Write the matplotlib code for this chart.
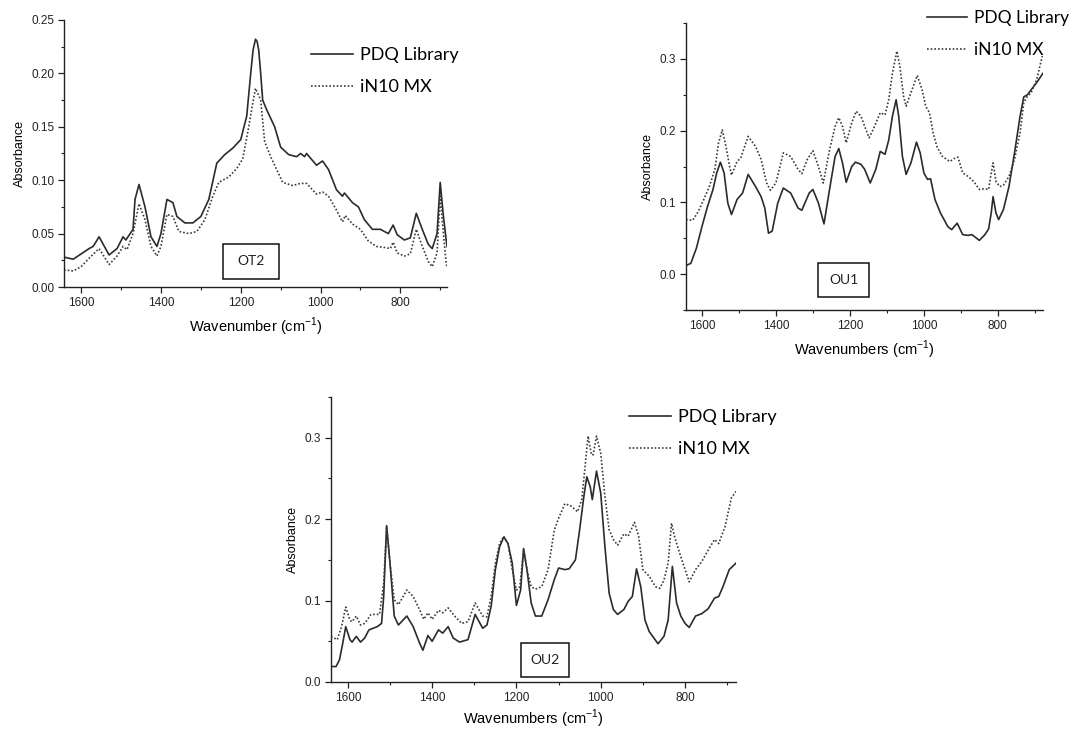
import matplotlib
matplotlib.use("Agg")
import matplotlib.pyplot as plt
from matplotlib.patches import Rectangle
from matplotlib.ticker import MultipleLocator

plt.rcParams['font.family'] = ['Liberation Sans', 'DejaVu Sans']

# ---- OT2 spectra ----
ot2_pdq_wn = [1643, 1620, 1580, 1570, 1555, 1530, 1510, 1495, 1488, 1470, 1465, 1455, 1440, 1425,
              1410, 1400, 1385, 1370, 1360, 1340, 1320, 1300, 1280, 1260, 1240, 1220, 1200, 1185,
              1175, 1169, 1163, 1159, 1155, 1150, 1145, 1135, 1115, 1100, 1080, 1060, 1050, 1040,
              1035, 1010, 995, 980, 960, 945, 940, 920, 905, 890, 870, 850, 830, 818, 808, 790,
              775, 760, 745, 730, 720, 708, 700, 692, 685, 683]
ot2_pdq = [0.028, 0.026, 0.036, 0.038, 0.047, 0.030, 0.036, 0.047, 0.044, 0.054, 0.082, 0.096, 0.075, 0.047,
           0.038, 0.050, 0.082, 0.079, 0.066, 0.060, 0.060, 0.066, 0.082, 0.116, 0.124, 0.130, 0.138, 0.160,
           0.200, 0.222, 0.232, 0.230, 0.222, 0.200, 0.175, 0.166, 0.150, 0.131, 0.124, 0.122, 0.125, 0.122,
           0.125, 0.114, 0.118, 0.110, 0.091, 0.085, 0.088, 0.079, 0.075, 0.063, 0.054, 0.054, 0.050, 0.058,
           0.049, 0.044, 0.046, 0.069, 0.054, 0.040, 0.036, 0.050, 0.098, 0.066, 0.044, 0.038]

ot2_in10_wn = [1643, 1620, 1600, 1580, 1555, 1530, 1510, 1495, 1485, 1470, 1455, 1440, 1425, 1410,
               1400, 1385, 1370, 1355, 1330, 1310, 1290, 1270, 1255, 1230, 1210, 1195, 1180, 1170,
               1163, 1150, 1140, 1125, 1110, 1095, 1070, 1050, 1035, 1010, 995, 980, 960, 945, 938,
               920, 900, 880, 860, 840, 825, 818, 808, 790, 775, 760, 745, 730, 720, 708, 700, 692,
               685, 683]
ot2_in10 = [0.016, 0.015, 0.019, 0.027, 0.036, 0.021, 0.029, 0.038, 0.035, 0.050, 0.078, 0.063, 0.038, 0.029,
            0.038, 0.068, 0.066, 0.052, 0.050, 0.052, 0.063, 0.085, 0.098, 0.103, 0.111, 0.120, 0.150, 0.172,
            0.186, 0.175, 0.136, 0.122, 0.110, 0.098, 0.095, 0.097, 0.097, 0.087, 0.089, 0.085, 0.072, 0.061, 0.067,
            0.059, 0.054, 0.043, 0.038, 0.037, 0.036, 0.042, 0.032, 0.029, 0.031, 0.054, 0.038, 0.024, 0.019, 0.032,
            0.085, 0.050, 0.022, 0.019]

# ---- OU1 spectra ----
ou1_pdq_wn = [1643, 1630, 1615, 1600, 1585, 1570, 1560, 1550, 1540, 1530, 1520, 1505, 1490, 1475,
              1455, 1440, 1430, 1420, 1410, 1395, 1380, 1360, 1340, 1330, 1310, 1300, 1285, 1270,
              1255, 1240, 1230, 1220, 1210, 1195, 1185, 1170, 1160, 1145, 1130, 1118, 1105, 1095,
              1085, 1075, 1068, 1058, 1048, 1035, 1020, 1010, 1000, 990, 982, 970, 955, 935, 925,
              910, 895, 880, 870, 850, 835, 825, 818, 813, 805, 798, 785, 770, 755, 740, 730, 720,
              710, 695, 678]
ou1_pdq = [0.012, 0.015, 0.036, 0.066, 0.094, 0.118, 0.141, 0.156, 0.141, 0.099, 0.083, 0.104, 0.113, 0.139,
           0.122, 0.108, 0.092, 0.057, 0.060, 0.099, 0.120, 0.113, 0.092, 0.089, 0.113, 0.118, 0.099, 0.070,
           0.118, 0.164, 0.175, 0.155, 0.128, 0.150, 0.156, 0.153, 0.146, 0.127, 0.146, 0.171, 0.167, 0.187,
           0.220, 0.243, 0.220, 0.164, 0.139, 0.155, 0.184, 0.169, 0.141, 0.132, 0.133, 0.104, 0.085, 0.066, 0.062,
           0.071, 0.055, 0.054, 0.055, 0.047, 0.055, 0.063, 0.085, 0.108, 0.085, 0.076, 0.090, 0.122, 0.169, 0.220,
           0.247, 0.250, 0.257, 0.267, 0.280]

ou1_in10_wn = [1643, 1625, 1610, 1595, 1580, 1565, 1555, 1545, 1535, 1525, 1520, 1505, 1495, 1475,
               1455, 1440, 1425, 1415, 1400, 1380, 1360, 1340, 1330, 1315, 1300, 1285, 1272, 1255,
               1240, 1230, 1220, 1210, 1195, 1183, 1170, 1160, 1148, 1135, 1118, 1105, 1095, 1085,
               1073, 1065, 1055, 1048, 1035, 1018, 1005, 995, 985, 975, 965, 950, 930, 915, 908,
               895, 880, 865, 850, 835, 825, 818, 813, 805, 795, 785, 770, 755, 740, 730, 720, 710,
               695, 680]
ou1_in10 = [0.076, 0.075, 0.087, 0.104, 0.122, 0.146, 0.183, 0.201, 0.178, 0.150, 0.138, 0.157, 0.162, 0.192,
            0.178, 0.160, 0.127, 0.117, 0.127, 0.169, 0.164, 0.146, 0.140, 0.160, 0.172, 0.150, 0.127, 0.173,
            0.206, 0.218, 0.206, 0.183, 0.211, 0.227, 0.220, 0.206, 0.190, 0.204, 0.225, 0.222, 0.243, 0.280,
            0.311, 0.290, 0.248, 0.234, 0.253, 0.277, 0.257, 0.234, 0.225, 0.197, 0.178, 0.164, 0.157, 0.162, 0.163,
            0.141, 0.136, 0.129, 0.118, 0.119, 0.118, 0.141, 0.155, 0.129, 0.122, 0.124, 0.136, 0.160, 0.197, 0.239,
            0.248, 0.253, 0.271, 0.304]

# ---- OU2 spectra ----
ou2_pdq_wn = [1640, 1628, 1620, 1612, 1605, 1595, 1590, 1580, 1570, 1560, 1550, 1530, 1520, 1515,
              1508, 1500, 1490, 1480, 1460, 1445, 1430, 1422, 1410, 1400, 1385, 1375, 1362, 1350,
              1335, 1315, 1298, 1280, 1270, 1260, 1250, 1240, 1230, 1220, 1210, 1200, 1190, 1183,
              1175, 1165, 1155, 1140, 1125, 1110, 1100, 1085, 1075, 1060, 1050, 1040, 1033, 1025,
              1020, 1010, 1000, 990, 980, 970, 960, 945, 935, 925, 915, 905, 895, 885, 864, 850,
              840, 830, 820, 810, 800, 790, 775, 760, 745, 730, 720, 710, 695, 679]
ou2_pdq = [0.019, 0.019, 0.027, 0.048, 0.068, 0.052, 0.049, 0.056, 0.049, 0.054, 0.064, 0.068, 0.072, 0.105,
           0.192, 0.146, 0.081, 0.070, 0.081, 0.068, 0.048, 0.039, 0.057, 0.050, 0.064, 0.060, 0.068, 0.054,
           0.049, 0.052, 0.083, 0.066, 0.070, 0.093, 0.138, 0.166, 0.178, 0.170, 0.146, 0.094, 0.113, 0.164,
           0.138, 0.097, 0.081, 0.081, 0.101, 0.126, 0.140, 0.138, 0.139, 0.150, 0.187, 0.228, 0.252, 0.240,
           0.224, 0.259, 0.232, 0.166, 0.109, 0.089, 0.083, 0.089, 0.099, 0.105, 0.139, 0.117, 0.076, 0.062, 0.047,
           0.056, 0.076, 0.142, 0.097, 0.081, 0.072, 0.067, 0.081, 0.084, 0.090, 0.103, 0.105, 0.117, 0.138, 0.146]

ou2_in10_wn = [1640, 1625, 1615, 1605, 1595, 1590, 1580, 1570, 1560, 1545, 1525, 1515, 1508, 1500,
               1490, 1480, 1460, 1445, 1430, 1420, 1410, 1400, 1385, 1375, 1362, 1345, 1330, 1315,
               1298, 1280, 1270, 1260, 1250, 1240, 1230, 1220, 1210, 1200, 1192, 1183, 1175, 1165,
               1155, 1140, 1125, 1110, 1100, 1085, 1070, 1055, 1045, 1038, 1030, 1022, 1018, 1010,
               1000, 990, 980, 970, 960, 945, 935, 920, 910, 900, 885, 870, 860, 850, 840, 832, 825,
               815, 805, 790, 775, 760, 745, 730, 720, 705, 690, 679]
ou2_in10 = [0.056, 0.052, 0.068, 0.092, 0.076, 0.074, 0.081, 0.070, 0.072, 0.083, 0.083, 0.121, 0.191, 0.146,
            0.101, 0.095, 0.113, 0.105, 0.089, 0.077, 0.085, 0.077, 0.088, 0.085, 0.091, 0.080, 0.072, 0.074,
            0.097, 0.081, 0.080, 0.105, 0.146, 0.170, 0.179, 0.170, 0.138, 0.113, 0.117, 0.162, 0.138, 0.117,
            0.114, 0.117, 0.138, 0.187, 0.201, 0.219, 0.216, 0.209, 0.224, 0.260, 0.302, 0.279, 0.279, 0.302,
            0.281, 0.228, 0.187, 0.175, 0.168, 0.182, 0.179, 0.196, 0.179, 0.138, 0.130, 0.117, 0.115, 0.125,
            0.146, 0.195, 0.179, 0.162, 0.146, 0.123, 0.138, 0.148, 0.162, 0.175, 0.170, 0.191, 0.226, 0.234]

SOLID = '#2b2b2b'
DOTTED = '#3a3a3a'

fig = plt.figure(figsize=(10.69, 7.29), dpi=100)


def make_panel(rect, pdq_wn, pdq, in10_wn, in10, xlim, ylim, ymajor, yfmt, xlabel,
               leg_anchor, leg_size, tag, tag_box, xpad=5):
    ax = fig.add_axes(rect)
    ax.plot(pdq_wn, pdq, color=SOLID, lw=1.2, ls='-', label='PDQ Library')
    ax.plot(in10_wn, in10, color=DOTTED, lw=1.2, ls=(0, (1, 1.2)), label='iN10 MX')
    ax.set_xlim(*xlim)
    ax.set_ylim(*ylim)
    ax.xaxis.set_major_locator(MultipleLocator(200))
    ax.xaxis.set_minor_locator(MultipleLocator(100))
    ax.yaxis.set_major_locator(MultipleLocator(ymajor))
    ax.yaxis.set_minor_locator(MultipleLocator(ymajor / 2))
    ax.yaxis.set_major_formatter(plt.FormatStrFormatter(yfmt))
    for side in ('top', 'right'):
        ax.spines[side].set_visible(False)
    for side in ('left', 'bottom'):
        ax.spines[side].set_linewidth(1.0)
        ax.spines[side].set_color('#222222')
    ax.tick_params(which='major', direction='out', length=4, width=0.9, labelsize=8.5,
                   colors='#222222', pad=3)
    ax.tick_params(which='minor', direction='out', length=2.5, width=0.8, colors='#222222')
    ax.set_xlabel(xlabel, fontsize=10.5, labelpad=xpad)
    ax.set_ylabel('Absorbance', fontsize=9, labelpad=4)
    ax.legend(loc='upper left', bbox_to_anchor=leg_anchor, bbox_transform=fig.transFigure,
              frameon=False, prop={'family': 'Lato', 'size': leg_size}, handlelength=2.3,
              handletextpad=0.4, labelspacing=0.9, borderaxespad=0, borderpad=0)
    # sample tag in a small box
    bx, by, bw, bh = tag_box
    fig.patches.append(Rectangle((bx, by), bw, bh, transform=fig.transFigure,
                                 fill=False, edgecolor='#111111', lw=1.1))
    fig.text(bx + bw / 2, by + bh / 2, tag, ha='center', va='center',
             family='Lato', fontsize=10, color='#222222')
    return ax


W, H = 1069.0, 729.0


def frac_rect(l, t, r, b):
    return [l / W, 1 - b / H, (r - l) / W, (b - t) / H]


def frac_box(l, t, r, b):
    return (l / W, 1 - b / H, (r - l) / W, (b - t) / H)


make_panel(frac_rect(64, 20, 447, 287), ot2_pdq_wn, ot2_pdq, ot2_in10_wn, ot2_in10,
           (1643, 683), (0, 0.25), 0.05, '%.2f', 'Wavenumber (cm$^{\\mathregular{-1}}$)',
           (311 / W, 1 - 47 / H), 13, 'OT2', frac_box(223, 244, 279, 279))

make_panel(frac_rect(686, 23, 1043, 310), ou1_pdq_wn, ou1_pdq, ou1_in10_wn, ou1_in10,
           (1643, 678), (-0.05, 0.35), 0.1, '%.1f', 'Wavenumbers (cm$^{\\mathregular{-1}}$)',
           (927 / W, 1 - 10 / H), 12.5, 'OU1', frac_box(818, 263, 869, 297))

make_panel(frac_rect(331, 397, 736, 682), ou2_pdq_wn, ou2_pdq, ou2_in10_wn, ou2_in10,
           (1640, 679), (0, 0.35), 0.1, '%.1f', 'Wavenumbers (cm$^{\\mathregular{-1}}$)',
           (629 / W, 1 - 409 / H), 13, 'OU2', frac_box(521, 643, 569, 677), xpad=3)

fig.savefig('out.png', dpi=100)
